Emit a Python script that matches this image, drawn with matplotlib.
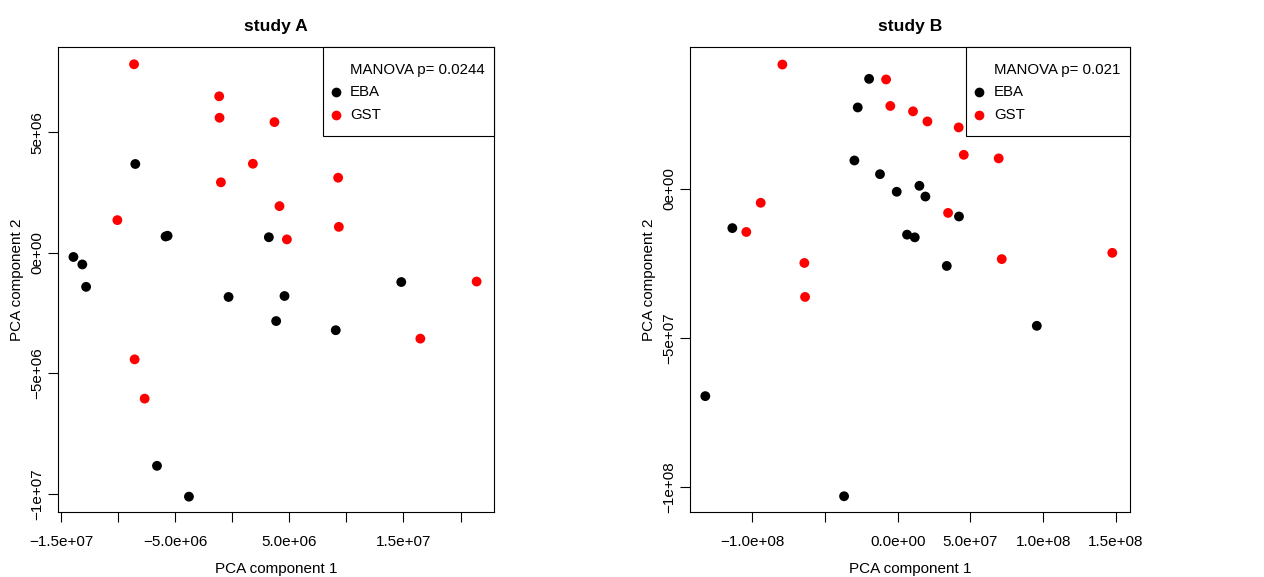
import matplotlib.pyplot as plt
from matplotlib.patches import Rectangle

plt.rcParams["font.family"] = ["Liberation Sans", "DejaVu Sans"]
plt.rcParams["font.size"] = 11

# study A (PCA scores)
a_eba_x = [-8.49e6, -5.84e6, -5.66e6, 3.21e6, -13.91e6, -13.13e6, -12.80e6,
           14.81e6, -0.32e6, 4.58e6, 3.85e6, 9.07e6, -6.59e6, -3.79e6]
a_eba_y = [3.69e6, 0.68e6, 0.71e6, 0.65e6, -0.17e6, -0.48e6, -1.41e6,
           -1.21e6, -1.83e6, -1.79e6, -2.83e6, -3.21e6, -8.84e6, -10.12e6]
a_gst_x = [-8.60e6, -1.14e6, -1.11e6, 3.70e6, 1.81e6, -0.99e6, 9.28e6, -10.06e6,
           4.14e6, 9.34e6, 4.79e6, 21.41e6, 16.48e6, -8.55e6, -7.67e6]
a_gst_y = [7.83e6, 6.50e6, 5.61e6, 5.43e6, 3.70e6, 2.93e6, 3.12e6, 1.36e6,
           1.94e6, 1.08e6, 0.56e6, -1.19e6, -3.56e6, -4.42e6, -6.05e6]
a_pval = "0.0244"

# study B
b_eba_x = [-1.97e7, -2.75e7, -2.98e7, -1.22e7, -0.07e7, 1.49e7, 1.90e7, 4.21e7,
           -11.37e7, 0.64e7, 1.17e7, 3.37e7, 9.56e7, -13.23e7, -3.69e7]
b_eba_y = [3.69e7, 2.73e7, 0.95e7, 0.49e7, -0.10e7, 0.10e7, -0.26e7, -0.93e7,
           -1.32e7, -1.54e7, -1.63e7, -2.59e7, -4.60e7, -6.96e7, -10.32e7]
b_gst_x = [-7.93e7, -0.80e7, -0.51e7, 1.05e7, 2.04e7, 4.19e7, 4.54e7, 6.94e7,
           -9.42e7, 3.46e7, -10.41e7, -6.42e7, 7.15e7, 14.75e7, -6.37e7]
b_gst_y = [4.17e7, 3.67e7, 2.78e7, 2.60e7, 2.26e7, 2.06e7, 1.14e7, 1.02e7,
           -0.47e7, -0.81e7, -1.45e7, -2.49e7, -2.36e7, -2.15e7, -3.63e7]
b_pval = "0.021"

a_xticks = [-1.5e7, -1e7, -5e6, 0, 5e6, 1e7, 1.5e7, 2e7]
a_xlabels = ["\u22121.5e+07", "", "\u22125.0e+06", "", "5.0e+06", "", "1.5e+07", ""]
a_yticks = [-1e7, -5e6, 0, 5e6]
a_ylabels = ["\u22121e+07", "\u22125e+06", "0e+00", "5e+06"]

b_xticks = [-1e8, -5e7, 0, 5e7, 1e8, 1.5e8]
b_xlabels = ["\u22121.0e+08", "", "0.0e+00", "5.0e+07", "1.0e+08", "1.5e+08"]
b_yticks = [-1e8, -5e7, 0]
b_ylabels = ["\u22121e+08", "\u22125e+07", "0e+00"]

RED = "#ff0000"


def draw_legend(ax, pval, x0):
    # R-style legend box in the top right corner (axes coordinates)
    ax.add_patch(Rectangle((x0, 0.808), 1 - x0, 0.192, transform=ax.transAxes,
                           facecolor="white", edgecolor="black", linewidth=0.8,
                           zorder=4, clip_on=False))
    mx = x0 + 0.030
    tx = x0 + 0.063
    rows = [("MANOVA p= " + pval, None, 0.950),
            ("EBA", "black", 0.903),
            ("GST", RED, 0.853)]
    for label, col, y in rows:
        if col is not None:
            ax.plot([mx], [y], "o", color=col, markersize=7, mec="none",
                    transform=ax.transAxes, zorder=5, clip_on=False)
        ax.text(tx, y, label, transform=ax.transAxes, ha="left", va="center",
                fontsize=10.8, zorder=5)


def draw_panel(ax, title, eba_x, eba_y, gst_x, gst_y, pval,
               xticks, xlabels, yticks, ylabels, xlim, ylim, leg_x0):
    ax.scatter(eba_x, eba_y, s=50, color="black", edgecolors="none", zorder=3)
    ax.scatter(gst_x, gst_y, s=50, color=RED, edgecolors="none", zorder=3)
    ax.set_xlim(*xlim)
    ax.set_ylim(*ylim)
    ax.set_xticks(xticks)
    ax.set_xticklabels(xlabels)
    ax.set_yticks(yticks)
    ax.set_yticklabels(ylabels, rotation=90, va="center")
    ax.tick_params(direction="out", length=7, width=0.8)
    ax.tick_params(axis="x", pad=9.5)
    ax.tick_params(axis="y", pad=3)
    for sp in ax.spines.values():
        sp.set_linewidth(0.8)
    ax.set_title(title, fontweight="bold", fontsize=12.6, pad=11)
    ax.set_xlabel("PCA component 1")
    ax.set_ylabel("PCA component 2")
    ax.xaxis.set_label_coords(0.5, -0.106)
    ax.yaxis.set_label_coords(-0.078, 0.5)
    draw_legend(ax, pval, leg_x0)


fig = plt.figure(figsize=(12.64, 5.77), dpi=100)
ax1 = fig.add_axes([0.0459, 0.1121, 0.3449, 0.8070])
ax2 = fig.add_axes([0.5459, 0.1121, 0.3479, 0.8070])

draw_panel(ax1, "study A", a_eba_x, a_eba_y, a_gst_x, a_gst_y, a_pval,
           a_xticks, a_xlabels, a_yticks, a_ylabels,
           (-1.526e7, 2.293e7), (-1.077e7, 0.856e7), 0.607)
draw_panel(ax2, "study B", b_eba_x, b_eba_y, b_gst_x, b_gst_y, b_pval,
           b_xticks, b_xlabels, b_yticks, b_ylabels,
           (-14.28e7, 15.95e7), (-10.86e7, 4.77e7), 0.628)

fig.savefig("out.png", dpi=100)
